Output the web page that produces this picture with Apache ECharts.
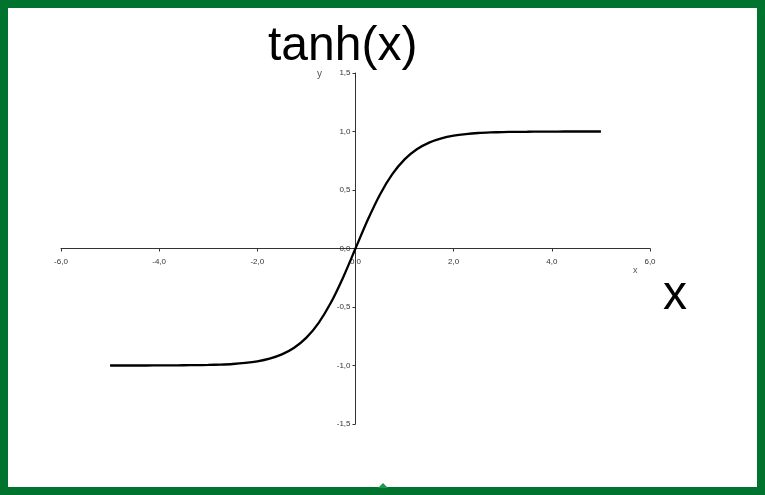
<!DOCTYPE html>
<html>
<head>
<meta charset="utf-8">
<script src="https://cdn.jsdelivr.net/npm/echarts@6/dist/echarts.min.js"></script>
<style>
html,body{margin:0;padding:0;background:#fff;}
#c{width:765px;height:495px;}
</style>
</head>
<body>
<div id="c"></div>
<script>
var titleText = 'tanh(x)';
var bigXLabel = 'x';
var xName = 'x';
var yName = 'y';
var xValues = [-5,-4.75,-4.5,-4.25,-4,-3.75,-3.5,-3.25,-3,-2.75,-2.5,-2.25,-2,-1.75,-1.5,-1.25,-1,-0.75,-0.5,-0.25,0,0.25,0.5,0.75,1,1.25,1.5,1.75,2,2.25,2.5,2.75,3,3.25,3.5,3.75,4,4.25,4.5,4.75,5];
var yValues = [-1.000,-1.000,-1.000,-1.000,-0.999,-0.999,-0.998,-0.997,-0.995,-0.992,-0.987,-0.978,-0.964,-0.941,-0.905,-0.848,-0.762,-0.635,-0.462,-0.245,0.000,0.245,0.462,0.635,0.762,0.848,0.905,0.941,0.964,0.978,0.987,0.992,0.995,0.997,0.998,0.999,0.999,1.000,1.000,1.000,1.000];

var pts = xValues.map(function(x,i){return [x,yValues[i]];});
function fmt(v){return v.toFixed(1).replace('.',',');}

var gridL = 61, gridR = 115, gridT = 73, gridB = 71;
var W = 765, H = 495;
var plotW = W - gridL - gridR, plotH = H - gridT - gridB;
var xMin = -6, xMax = 6, yMin = -1.5, yMax = 1.5;
var xOffset = -plotH * (0 - yMin) / (yMax - yMin);
var yOffset = -plotW * (0 - xMin) / (xMax - xMin);

var chart = echarts.init(document.getElementById('c'), null, {renderer:'canvas'});
chart.setOption({
  backgroundColor:'#fff',
  animation:false,
  grid:{left:gridL,right:gridR,top:gridT,bottom:gridB,containLabel:false},
  xAxis:{
    type:'value',min:xMin,max:xMax,interval:2,position:'bottom',offset:xOffset,
    axisLine:{onZero:false,lineStyle:{color:'#333',width:1}},
    axisTick:{show:true,length:3,lineStyle:{color:'#333'}},
    axisLabel:{formatter:fmt,fontFamily:'Liberation Sans',fontSize:8,color:'#333',margin:9},
    splitLine:{show:false}
  },
  yAxis:{
    type:'value',min:yMin,max:yMax,interval:0.5,position:'left',offset:yOffset,
    axisLine:{onZero:false,lineStyle:{color:'#333',width:1}},
    axisTick:{show:true,length:3,lineStyle:{color:'#333'}},
    axisLabel:{formatter:fmt,fontFamily:'Liberation Sans',fontSize:8,color:'#333',margin:5},
    splitLine:{show:false}
  },
  series:[{
    type:'line',data:pts,smooth:0.25,showSymbol:false,
    lineStyle:{color:'#000',width:2.3}
  }],
  graphic:[
    {type:'rect',left:0,top:0,shape:{x:4,y:4,width:757,height:487},style:{fill:'none',stroke:'#00732e',lineWidth:8},silent:true},
    {type:'polygon',shape:{points:[[378,488],[383,483],[388,488]]},style:{fill:'#1a9a4a'},silent:true},
    {type:'text',left:268,top:23,style:{text:titleText,font:'48px "Liberation Sans"',fill:'#000'}},
    {type:'text',left:663,top:272,style:{text:bigXLabel,font:'48px "Liberation Sans"',fill:'#000'}},
    {type:'text',left:317,top:69,style:{text:yName,font:'10px "Liberation Sans"',fill:'#555'}},
    {type:'text',left:633,top:266,style:{text:xName,font:'9px "Liberation Sans"',fill:'#555'}}
  ]
});
</script>
</body>
</html>
